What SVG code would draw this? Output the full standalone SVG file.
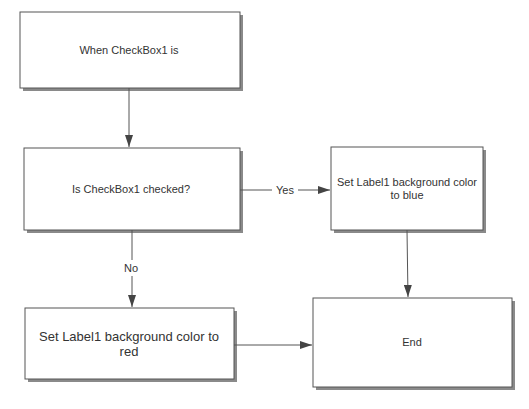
<svg xmlns="http://www.w3.org/2000/svg" width="529" height="409" viewBox="0 0 529 409">
<style>
.box{fill:#fff;stroke:#555;stroke-width:1}
.sh{fill:#8a8a8a}
.t{font-family:"Liberation Sans",Arial,sans-serif;font-size:11px;fill:#333;text-anchor:middle}
.big{font-size:13px}
.c{stroke:#555;stroke-width:1;fill:none}
</style>
<defs>
<marker id="ah" markerWidth="12" markerHeight="8" refX="12" refY="4" orient="auto" markerUnits="userSpaceOnUse">
<path d="M0,0 L12,4 L0,8 Z" fill="#444"/>
</marker>
</defs>
<rect width="529" height="409" fill="#fff"/>
<g id="n1">
<rect class="sh" x="23" y="15" width="220" height="76"/>
<rect class="box" x="20" y="12" width="220" height="76"/>
<text class="t" x="129" y="54">When CheckBox1 is</text>
</g>
<g id="n2">
<rect class="sh" x="27" y="151" width="216" height="82"/>
<rect class="box" x="24" y="148" width="216" height="82"/>
<text class="t" x="131" y="193">Is CheckBox1 checked?</text>
</g>
<g id="n3">
<rect class="sh" x="334" y="150" width="152" height="83"/>
<rect class="box" x="331" y="147" width="152" height="83"/>
<text class="t" x="407" y="186">Set Label1 background color</text>
<text class="t" x="407" y="199">to blue</text>
</g>
<g id="n4">
<rect class="sh" x="28" y="311" width="209" height="71"/>
<rect class="box" x="25" y="308" width="209" height="71"/>
<text class="t big" x="129" y="341">Set Label1 background color to</text>
<text class="t big" x="129" y="356">red</text>
</g>
<g id="n5">
<rect class="sh" x="316" y="301" width="199" height="89"/>
<rect class="box" x="313" y="298" width="199" height="89"/>
<text class="t" x="412" y="346">End</text>
</g>
<g id="connectors">
<line class="c" x1="129" y1="88" x2="129" y2="147" marker-end="url(#ah)"/>
<line class="c" x1="240" y1="190" x2="272" y2="190"/>
<line class="c" x1="298" y1="190" x2="330" y2="190" marker-end="url(#ah)"/>
<text class="t" x="285" y="194">Yes</text>
<line class="c" x1="132" y1="230" x2="132" y2="260"/>
<line class="c" x1="132" y1="276" x2="132" y2="307" marker-end="url(#ah)"/>
<text class="t" x="131" y="272">No</text>
<line class="c" x1="407" y1="230" x2="408" y2="297" marker-end="url(#ah)"/>
<line class="c" x1="234" y1="345" x2="312" y2="345" marker-end="url(#ah)"/>
</g>
</svg>
